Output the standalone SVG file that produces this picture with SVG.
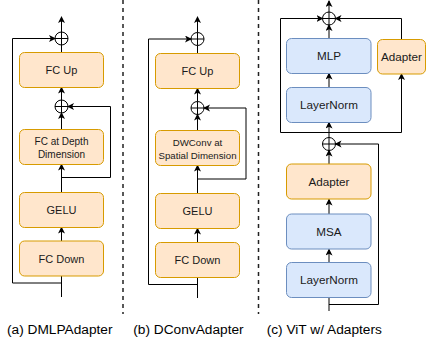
<svg xmlns="http://www.w3.org/2000/svg" width="426" height="337" viewBox="0 0 426 337">
<style>
.or{fill:#ffe6cc;stroke:#d79b00;stroke-width:1}
.bl{fill:#dae8fc;stroke:#6c8ebf;stroke-width:1}
.ln{fill:none;stroke:#000;stroke-width:1}
.ar{fill:none;stroke:#000;stroke-width:1;marker-end:url(#ah)}
.pl{fill:none;stroke:#000;stroke-width:1}
.t{font-family:"Liberation Sans",Arial,sans-serif;fill:#1a1a1a;text-anchor:middle}
.cap{font-family:"Liberation Sans",Arial,sans-serif;font-size:13.7px;fill:#000}
.dv{stroke:#222;stroke-width:1.5;stroke-dasharray:4 4}
</style>
<defs>
<marker id="ah" markerUnits="userSpaceOnUse" markerWidth="8" markerHeight="8" refX="6" refY="3.5" orient="auto">
<path d="M0,0 L7,3.5 L0,7 L1.8,3.5 z" fill="#000"/>
</marker>
</defs>

<line class="dv" x1="123" y1="0" x2="123" y2="314"/>
<line class="dv" x1="258.5" y1="0" x2="258.5" y2="314"/>

<g id="connectors">
<!-- panel a -->
<path class="pl" d="M61.5,297 V276"/>
<path class="ar" d="M61.5,283 H12.5 V38.5 H55"/>
<path class="ar" d="M61.5,241 V227.5"/>
<path class="ar" d="M61.5,192.5 V164.5"/>
<path class="ar" d="M61.5,177.5 H110.5 V106.5 H68"/>
<path class="ar" d="M61.5,129.5 V113"/>
<path class="ar" d="M61.5,100 V87.5"/>
<path class="pl" d="M61.5,52.5 V45"/>
<path class="ar" d="M61.5,32 V17"/>
<!-- panel b -->
<path class="pl" d="M197.5,298 V277.5"/>
<path class="ar" d="M197.5,284.5 H148.5 V39 H191"/>
<path class="ar" d="M197.5,242.5 V228.5"/>
<path class="ar" d="M197.5,193.5 V165.5"/>
<path class="ar" d="M197.5,179 H246 V108 H204"/>
<path class="ar" d="M197.5,130.5 V114.5"/>
<path class="ar" d="M197.5,101.5 V88.5"/>
<path class="pl" d="M197.5,53.5 V45.5"/>
<path class="ar" d="M197.5,32.5 V17"/>
<!-- panel c -->
<path class="ar" d="M329,12 V1"/>
<path class="ar" d="M329,38.5 V25"/>
<path class="ar" d="M329,87.5 V73.5"/>
<path class="ar" d="M329,137.5 V122.5"/>
<path class="ar" d="M329,132.5 H280.5 V18.5 H322.5"/>
<path class="ar" d="M329,132.5 H401.5 V74"/>
<path class="ar" d="M401.5,39.5 V18.5 H335.5"/>
<path class="ar" d="M329,164 V150.5"/>
<path class="ar" d="M329,214 V199.5"/>
<path class="ar" d="M329,262.5 V249.5"/>
<path class="pl" d="M329,311 V297.5"/>
<path class="ar" d="M329,304.5 H378.5 V144 H335.5"/>
</g>

<g id="sum-a1"><circle cx="61.5" cy="38.5" r="6.5" class="ln" fill="#fff"/><path class="ln" d="M55,38.5 H68 M61.5,32 V45"/></g>
<g id="sum-a2"><circle cx="61.5" cy="106.5" r="6.5" class="ln" fill="#fff"/><path class="ln" d="M55,106.5 H68 M61.5,100 V113"/></g>
<g id="sum-b1"><circle cx="197.5" cy="39" r="6.5" class="ln" fill="#fff"/><path class="ln" d="M191,39 H204 M197.5,32.5 V45.5"/></g>
<g id="sum-b2"><circle cx="197.5" cy="108" r="6.5" class="ln" fill="#fff"/><path class="ln" d="M191,108 H204 M197.5,101.5 V114.5"/></g>
<g id="sum-c1"><circle cx="329" cy="18.5" r="6.5" class="ln" fill="#fff"/><path class="ln" d="M322.5,18.5 H335.5 M329,12 V25"/></g>
<g id="sum-c2"><circle cx="329" cy="144" r="6.5" class="ln" fill="#fff"/><path class="ln" d="M322.5,144 H335.5 M329,137.5 V150.5"/></g>

<g id="a-fcup"><rect class="or" x="19.5" y="52.5" width="84" height="35" rx="5"/><text class="t" x="61.5" y="74" font-size="11">FC Up</text></g>
<g id="a-fcdepth"><rect class="or" x="19.5" y="129.5" width="84" height="35" rx="5"/><text class="t" x="61.5" y="144.5" font-size="10">FC at Depth</text><text class="t" x="61.5" y="158" font-size="10">Dimension</text></g>
<g id="a-gelu"><rect class="or" x="19.5" y="192.5" width="84" height="35" rx="5"/><text class="t" x="61.5" y="214" font-size="11">GELU</text></g>
<g id="a-fcdown"><rect class="or" x="19.5" y="241" width="84" height="35" rx="5"/><text class="t" x="61.5" y="262.5" font-size="11">FC Down</text></g>

<g id="b-fcup"><rect class="or" x="155.5" y="53.5" width="84" height="35" rx="5"/><text class="t" x="197.5" y="75" font-size="11">FC Up</text></g>
<g id="b-dwconv"><rect class="or" x="155.5" y="130.5" width="84" height="35" rx="5"/><text class="t" x="197.5" y="145.5" font-size="9.7">DWConv at</text><text class="t" x="197.5" y="159" font-size="9.7">Spatial Dimension</text></g>
<g id="b-gelu"><rect class="or" x="155.5" y="193.5" width="84" height="35" rx="5"/><text class="t" x="197.5" y="215" font-size="11">GELU</text></g>
<g id="b-fcdown"><rect class="or" x="155.5" y="242.5" width="84" height="35" rx="5"/><text class="t" x="197.5" y="264" font-size="11">FC Down</text></g>

<g id="c-mlp"><rect class="bl" x="286.5" y="38.5" width="84.5" height="35" rx="5"/><text class="t" x="329" y="60" font-size="11.7">MLP</text></g>
<g id="c-ln1"><rect class="bl" x="286.5" y="87.5" width="84.5" height="35" rx="5"/><text class="t" x="329" y="109" font-size="11.7">LayerNorm</text></g>
<g id="c-adapter-r"><rect class="or" x="377.5" y="39.5" width="48" height="34.5" rx="5"/><text class="t" x="401.5" y="61" font-size="11.7">Adapter</text></g>
<g id="c-adapter"><rect class="or" x="286.5" y="164" width="84.5" height="35" rx="5"/><text class="t" x="329" y="185.5" font-size="11.7">Adapter</text></g>
<g id="c-msa"><rect class="bl" x="286.5" y="214" width="84.5" height="35" rx="5"/><text class="t" x="329" y="235.5" font-size="11.7">MSA</text></g>
<g id="c-ln2"><rect class="bl" x="286.5" y="262.5" width="84.5" height="35" rx="5"/><text class="t" x="329" y="284" font-size="11.7">LayerNorm</text></g>

<text class="cap" x="7" y="333.5">(a) DMLPAdapter</text>
<text class="cap" x="133.3" y="333.5">(b) DConvAdapter</text>
<text class="cap" x="266.7" y="333.5">(c) ViT w/ Adapters</text>
</svg>
